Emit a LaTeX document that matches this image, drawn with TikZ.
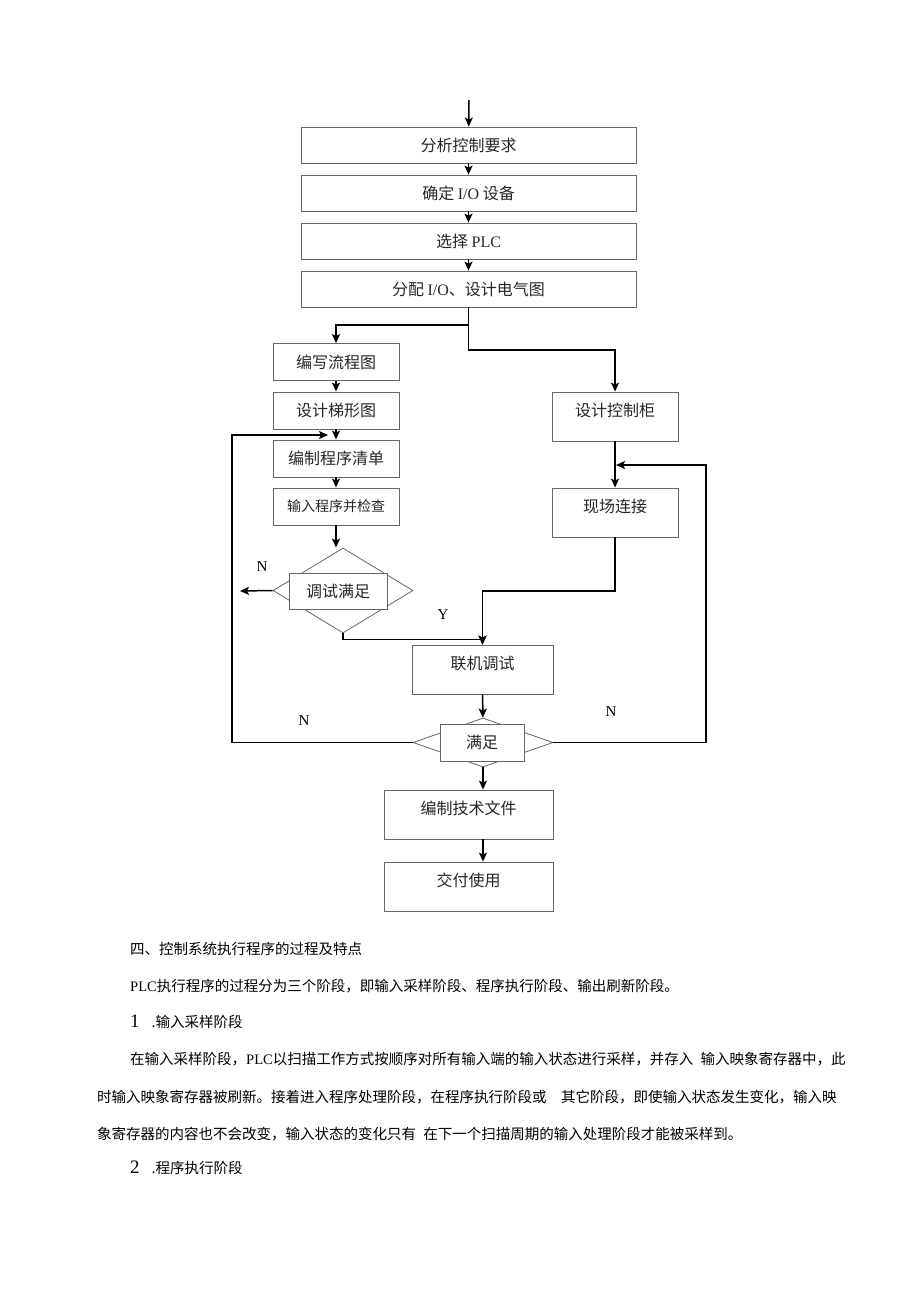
\documentclass[tikz,border=0pt]{standalone}
\usepackage{fontspec}
\setmainfont{Noto Sans CJK SC}
\newfontfamily\lat{Liberation Serif}
\usetikzlibrary{arrows.meta,shapes.geometric}

\tikzset{
  stepbox/.style={draw=black!60, line width=0.8pt, rectangle, inner sep=0pt,
    font=\fontsize{16pt}{16pt}\selectfont, text=black!85},
  tallbox/.style={stepbox, text height=8pt, text depth=8pt},
  testbox/.style={draw=black!60, line width=0.8pt, diamond, inner sep=0pt},
  flow/.style={line width=1.5pt, -{Stealth[length=9pt,width=8pt,inset=2pt]}},
  yn/.style={font=\lat\fontsize{15pt}{15pt}\selectfont},
  para/.style={anchor=west, inner sep=0pt, font=\fontsize{14.5pt}{14.5pt}\selectfont}
}

\begin{document}
\begin{tikzpicture}[x=1pt,y=-1pt]
\useasboundingbox (0,0) rectangle (920,1301);

\begin{scope}[minimum width=335pt, minimum height=36pt]
\node[stepbox] (req)  at (468.5,145) {分析控制要求};
\node[stepbox] (io)   at (468.5,193) {确定 {\lat I/O} 设备};
\node[stepbox] (plc)  at (468.5,241) {选择 {\lat PLC}};
\node[stepbox] (wire) at (468.5,289) {分配 {\lat I/O}、设计电气图};
\end{scope}

\begin{scope}[minimum width=126pt, minimum height=37pt]
\node[stepbox] (chart)   at (336,362)   {编写流程图};
\node[stepbox] (ladder)  at (336,410.5) {设计梯形图};
\node[stepbox] (listing) at (336,458.5) {编制程序清单};
\node[stepbox, font=\fontsize{14pt}{14pt}\selectfont] (enter) at (336,506.5) {输入程序并检查};
\end{scope}

\node[testbox, minimum width=140pt, minimum height=85pt] (test) at (343,590.5) {};
\node[stepbox, fill=white, minimum width=98pt, minimum height=36pt] (testin) at (338,591) {调试满足};

\begin{scope}[minimum width=126pt, minimum height=49pt]
\node[tallbox] (cabinet) at (615,416.5) {设计控制柜};
\node[tallbox] (site)    at (615,512.5) {现场连接};
\end{scope}

\node[tallbox, minimum width=141pt, minimum height=49pt] (online) at (482.5,669.5) {联机调试};

\node[testbox, minimum width=140pt, minimum height=49pt] (ok) at (483,742.5) {};
\node[stepbox, fill=white, minimum width=84pt, minimum height=37pt] (okin) at (482,742.5) {满足};

\begin{scope}[minimum width=169pt, minimum height=49pt]
\node[tallbox] (docs)    at (468.5,814.5) {编制技术文件};
\node[tallbox] (deliver) at (468.5,886.5) {交付使用};
\end{scope}

\coordinate (start)   at (469,100);
\coordinate (fork)    at (468.5,325);
\coordinate (fork2)   at (468.5,350);
\coordinate (nout)    at (240,591);
\coordinate (join)    at (482.5,591);
\coordinate (lcorner) at (232,435);
\coordinate (lback)   at (328,435);
\coordinate (rcorner) at (706,465);
\coordinate (rback)   at (616,465);

\node[yn] (nleft)  at (262,567) {N};
\node[yn] (yes)    at (443,615) {Y};
\node[yn] (nmid)   at (304,721) {N};
\node[yn] (nright) at (611,712) {N};

\begin{scope}[flow]
\draw (start) -- (req);
\draw (req) -- (io);
\draw (io) -- (plc);
\draw (plc) -- (wire);
\draw[-] (wire) -- (fork);
\draw (fork) -| (chart);
\draw (fork) -- (fork2) -| (cabinet);
\draw (chart) -- (ladder);
\draw (ladder) -- (listing);
\draw (listing) -- (enter);
\draw (enter) -- (enter.south |- test.north);
\draw (test.west) -- (nout);
\draw (test.south) -- ++(0,6) -| (online.north);
\draw (cabinet) -- (site);
\draw (site.south) |- (join) -- (online.north);
\draw (online) -- (ok);
\draw (ok.south) -- (ok.south |- docs.north);
\draw (docs.south -| ok.south) -- (deliver.north -| ok.south);
\draw (ok.west) -| (lcorner) -- (lback);
\draw (ok.east) -| (rcorner) -- (rback);
\end{scope}

\node[para] (h4)     at (130,949)  {四、控制系统执行程序的过程及特点};
\node[para] (stages) at (130,986)  {{\lat PLC}执行程序的过程分为三个阶段，即输入采样阶段、程序执行阶段、输出刷新阶段。};
\node[para] (sec1)   at (130,1022) {{\lat\fontsize{19pt}{19pt}\selectfont 1}\hspace{12pt}.输入采样阶段};
\node[para] (p1a)    at (130,1059) {在输入采样阶段，{\lat PLC}以扫描工作方式按顺序对所有输入端的输入状态进行采样，并存入\hspace{0.5em}输入映象寄存器中，此};
\node[para] (p1b)    at (97,1097)  {时输入映象寄存器被刷新。接着进入程序处理阶段，在程序执行阶段或\hspace{1em}其它阶段，即使输入状态发生变化，输入映};
\node[para] (p1c)    at (97,1134)  {象寄存器的内容也不会改变，输入状态的变化只有\hspace{0.5em}在下一个扫描周期的输入处理阶段才能被采样到。};
\node[para] (sec2)   at (130,1168) {{\lat\fontsize{19pt}{19pt}\selectfont 2}\hspace{12pt}.程序执行阶段};
\end{tikzpicture}
\end{document}
